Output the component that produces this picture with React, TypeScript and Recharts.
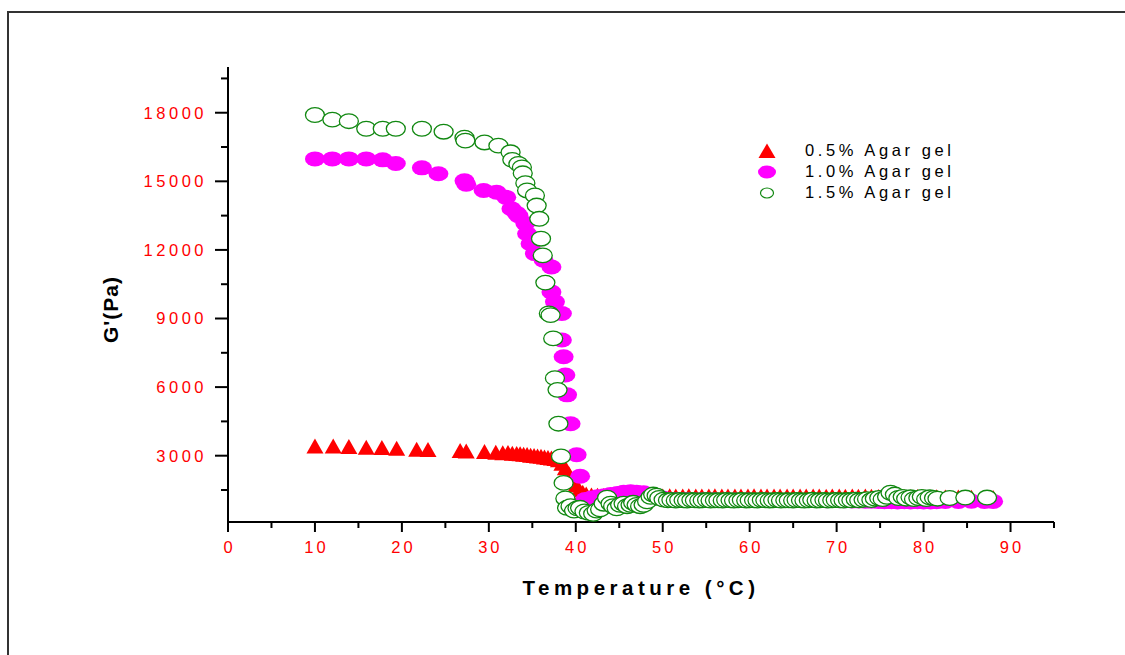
import React from "react";
import { ScatterChart, Scatter, XAxis, YAxis } from "recharts";

// temperature (°C), G' (Pa)
const agar05: [number, number][] = [
  [10.0, 3400], [12.1, 3400], [13.9, 3380], [15.9, 3350], [17.7, 3340], [19.4, 3300],
  [21.7, 3260], [23.0, 3250], [26.7, 3200], [27.4, 3180], [29.5, 3160], [30.8, 3130],
  [31.6, 3110], [32.2, 3120], [32.7, 3090], [33.2, 3070], [33.6, 3060], [34.0, 3040],
  [34.4, 3030], [34.8, 3000], [35.2, 2990], [35.6, 2960], [36.0, 2950], [36.4, 2920],
  [36.8, 2900], [37.2, 2880], [37.6, 2860], [38.0, 2800], [38.4, 2650], [38.8, 2450],
  [39.2, 2200], [39.6, 1950], [40.0, 1700], [40.4, 1500], [40.8, 1380], [41.2, 1300],
  [41.8, 1260], [42.5, 1250], [43.2, 1240], [44.0, 1250], [44.8, 1230], [45.5, 1220],
  [46.3, 1240], [47.0, 1230], [47.8, 1220], [48.5, 1230], [49.3, 1210], [50.0, 1220],
  [50.8, 1230], [51.5, 1210], [52.3, 1220], [53.0, 1230], [53.8, 1210], [54.5, 1220],
  [55.3, 1220], [56.0, 1230], [56.8, 1210], [57.5, 1220], [58.3, 1220], [59.0, 1210],
  [59.8, 1220], [60.5, 1230], [61.3, 1210], [62.0, 1220], [62.8, 1210], [63.5, 1220],
  [64.3, 1220], [65.0, 1210], [65.8, 1220], [66.5, 1210], [67.3, 1220], [68.0, 1210],
  [68.8, 1200], [69.5, 1210], [70.3, 1220], [71.0, 1200], [71.8, 1210], [72.5, 1200],
  [73.3, 1210], [74.0, 1200], [74.8, 1190], [75.5, 1200], [76.3, 1190], [77.0, 1200],
  [77.8, 1190], [78.5, 1180], [79.3, 1190], [80.0, 1180], [80.8, 1170], [81.5, 1180],
  [82.5, 1170], [84.0, 1170], [85.5, 1160], [87.0, 1160], [88.0, 1150],
];

const agar10: [number, number][] = [
  [10.0, 15980], [12.0, 15980], [13.9, 15980], [15.9, 15980], [17.8, 15940], [19.3, 15780],
  [22.3, 15590], [24.2, 15330], [27.2, 15020], [27.4, 14870], [29.4, 14600], [30.9, 14520],
  [32.0, 14300], [32.6, 13800], [33.2, 13600], [33.4, 13500], [34.2, 13150], [34.4, 12710],
  [34.8, 12270], [35.3, 11840], [36.3, 11550], [37.2, 11250], [37.2, 10160], [37.6, 9730],
  [38.4, 9220], [38.4, 8060], [38.6, 7330], [38.8, 6530], [39.0, 5660], [39.4, 4400],
  [40.1, 3040], [40.5, 2100], [41.1, 1080], [41.8, 1150], [42.5, 1200], [43.3, 1250],
  [44.0, 1300], [44.8, 1350], [45.5, 1400], [46.3, 1420], [47.0, 1400], [47.8, 1380],
  [48.5, 1300], [49.3, 1200], [50.0, 1150], [50.8, 1100], [51.5, 1080], [52.3, 1070],
  [53.0, 1080], [53.8, 1060], [54.5, 1070], [55.3, 1060], [56.0, 1070], [56.8, 1050],
  [57.5, 1060], [58.3, 1060], [59.0, 1050], [59.8, 1060], [60.5, 1050], [61.3, 1060],
  [62.0, 1050], [62.8, 1050], [63.5, 1040], [64.3, 1050], [65.0, 1040], [65.8, 1050],
  [66.5, 1040], [67.3, 1050], [68.0, 1040], [68.8, 1030], [69.5, 1040], [70.3, 1030],
  [71.0, 1030], [71.8, 1020], [72.5, 1020], [73.3, 1010], [74.0, 1010], [74.8, 1000],
  [75.5, 990], [76.3, 990], [77.0, 980], [77.8, 990], [78.5, 980], [79.3, 990],
  [80.0, 980], [80.8, 980], [81.5, 990], [82.5, 1000], [84.0, 1000], [85.5, 1010],
  [87.0, 1000], [88.0, 1000],
];

const agar15: [number, number][] = [
  [10.0, 17900], [12.0, 17700], [13.9, 17630], [15.9, 17300], [17.8, 17300], [19.3, 17300],
  [22.3, 17300], [24.8, 17170], [27.2, 16910], [27.3, 16780], [29.5, 16700], [31.1, 16560],
  [32.5, 16270], [32.7, 15940], [33.4, 15760], [33.8, 15610], [33.9, 15350], [34.2, 14920],
  [34.4, 14600], [35.3, 14380], [35.5, 13940], [35.8, 13360], [36.0, 12490], [36.2, 11760],
  [36.5, 10570], [36.9, 9220], [37.1, 9150], [37.4, 8130], [37.6, 6390], [37.9, 5880],
  [38.0, 4400], [38.3, 2970], [38.6, 1810], [38.8, 1130], [39.0, 720], [39.4, 790],
  [39.8, 600], [40.2, 700], [40.5, 720], [41.0, 560], [41.5, 500], [42.0, 460],
  [42.4, 600], [42.8, 650], [43.2, 900], [43.6, 1160], [44.0, 900], [44.3, 790],
  [44.7, 700], [45.1, 850], [45.5, 900], [45.9, 790], [46.3, 850], [46.6, 940],
  [47.0, 850], [47.4, 790], [47.8, 850], [48.2, 1000], [48.6, 1200], [48.9, 1300],
  [49.3, 1250], [49.6, 1150], [50.1, 1080], [50.6, 1050], [51.0, 1060], [51.5, 1040],
  [51.9, 1060], [52.4, 1050], [52.8, 1040], [53.3, 1060], [53.7, 1050], [54.2, 1040],
  [54.6, 1050], [55.1, 1060], [55.5, 1040], [56.0, 1050], [56.4, 1050], [56.9, 1040],
  [57.3, 1060], [57.8, 1050], [58.2, 1040], [58.7, 1050], [59.1, 1060], [59.6, 1040],
  [60.0, 1050], [60.5, 1050], [60.9, 1040], [61.4, 1060], [61.8, 1050], [62.3, 1040],
  [62.7, 1050], [63.2, 1060], [63.6, 1040], [64.1, 1050], [64.5, 1050], [65.0, 1040],
  [65.4, 1060], [65.9, 1050], [66.3, 1040], [66.8, 1050], [67.2, 1070], [67.7, 1040],
  [68.1, 1050], [68.6, 1060], [69.0, 1040], [69.5, 1050], [69.9, 1060], [70.4, 1050],
  [70.8, 1040], [71.3, 1060], [71.7, 1050], [72.2, 1080], [72.6, 1050], [73.1, 1070],
  [73.5, 1100], [74.0, 1060], [74.4, 1120], [74.9, 1150], [75.3, 1100], [75.8, 1200],
  [76.2, 1380], [76.7, 1300], [77.1, 1150], [77.6, 1200], [78.0, 1120], [78.5, 1180],
  [78.9, 1100], [79.4, 1150], [79.8, 1200], [80.3, 1100], [80.7, 1180], [81.2, 1150],
  [81.6, 1120], [83.0, 1150], [84.8, 1170], [87.3, 1170],
];

const xTicks = [0, 5, 10, 15, 20, 25, 30, 35, 40, 45, 50, 55, 60, 65, 70, 75, 80, 85, 90, 95];
const yTicks = [1500, 3000, 4500, 6000, 7500, 9000, 10500, 12000, 13500, 15000, 16500, 18000, 19500];
const seriesNames = ["0.5% Agar gel", "1.0% Agar gel", "1.5% Agar gel"];

const toPoints = (arr: [number, number][]) => arr.map(([t, g]) => ({ t, g }));

const RED = "#ff0000";
const MAGENTA = "#ff00ff";
const GREEN = "#118811";
const FONT = "'Liberation Sans', Arial, sans-serif";

const Triangle = (p: any) => (
  <polygon
    points={`${p.cx},${p.cy - 8} ${p.cx - 8.5},${p.cy + 7} ${p.cx + 8.5},${p.cy + 7}`}
    fill={RED}
  />
);
const FilledDot = (p: any) => <ellipse cx={p.cx} cy={p.cy} rx={10} ry={7.5} fill={MAGENTA} />;
const OpenDot = (p: any) => (
  <ellipse cx={p.cx} cy={p.cy} rx={9.5} ry={7.3} fill="#fff" stroke={GREEN} strokeWidth={1.3} />
);

const XTick = (props: any) => {
  const { x, y, payload } = props;
  const major = payload.value % 10 === 0;
  return (
    <g>
      <line x1={x} y1={y} x2={x} y2={y + (major ? 10 : 6)} stroke="#000" strokeWidth={2} />
      {major && payload.value <= 90 && (
        <text x={x + 1.5} y={y + 31} textAnchor="middle" fill={RED} fontSize={16.5}
          letterSpacing={3} fontFamily={FONT}>
          {payload.value}
        </text>
      )}
    </g>
  );
};

const YTick = (props: any) => {
  const { x, y, payload } = props;
  const major = payload.value % 3000 === 0;
  return (
    <g>
      <line x1={x - (major ? 13 : 7)} y1={y} x2={x} y2={y} stroke="#000" strokeWidth={2} />
      {major && (
        <text x={x - 21} y={y} dy="0.36em" textAnchor="end" fill={RED} fontSize={16.5}
          letterSpacing={3.5} fontFamily={FONT}>
          {payload.value}
        </text>
      )}
    </g>
  );
};

export default function App() {
  const legendMarks = [
    <svg width={20} height={16} key="a"><polygon points="10,0.5 1.5,15 18.5,15" fill={RED} /></svg>,
    <svg width={20} height={16} key="b"><ellipse cx={10} cy={8} rx={9} ry={6.5} fill={MAGENTA} /></svg>,
    <svg width={20} height={16} key="c"><ellipse cx={10} cy={8} rx={6.5} ry={5} fill="#fff" stroke={GREEN} strokeWidth={1.2} /></svg>,
  ];
  return (
    <div style={{ position: "absolute", left: 0, top: 0, width: 1125, height: 655, overflow: "hidden", background: "#fff", fontFamily: FONT }}>
      <div style={{ position: "absolute", left: 7, top: 11, width: 1300, height: 800, borderLeft: "2px solid #333", borderTop: "2px solid #333" }} />
      <ScatterChart width={1125} height={655} margin={{ top: 67, right: 71, bottom: 73, left: 0 }} style={{ position: "absolute", left: 0, top: 0 }}>
        <XAxis
          type="number"
          dataKey="t"
          domain={[0, 95]}
          ticks={xTicks}
          interval={0}
          height={60}
          tickSize={0}
          tickMargin={0}
          tickLine={false}
          tick={<XTick />}
          axisLine={{ stroke: "#000", strokeWidth: 2 }}
          label={{ value: "Temperature (°C)", position: "center", dy: 36, fill: "#000", fontSize: 20.5, fontWeight: "bold", letterSpacing: 4.5, fontFamily: FONT }}
        />
        <YAxis
          type="number"
          dataKey="g"
          domain={[100, 20000]}
          ticks={yTicks}
          interval={0}
          width={228}
          tickSize={0}
          tickMargin={0}
          tickLine={false}
          tick={<YTick />}
          axisLine={{ stroke: "#000", strokeWidth: 2 }}
          label={{ value: "G'(Pa)", angle: -90, position: "center", dx: -3, dy: 15, fill: "#000", fontSize: 21, fontWeight: "bold", letterSpacing: 1, fontFamily: FONT }}
        />
        <Scatter name={seriesNames[0]} data={toPoints(agar05)} shape={Triangle} isAnimationActive={false} />
        <Scatter name={seriesNames[1]} data={toPoints(agar10)} shape={FilledDot} isAnimationActive={false} />
        <Scatter name={seriesNames[2]} data={toPoints(agar15)} shape={OpenDot} isAnimationActive={false} />
      </ScatterChart>
      <div style={{ position: "absolute", left: 757, top: 140 }}>
        {seriesNames.map((name, i) => (
          <div key={name} style={{ display: "flex", alignItems: "center", height: 21 }}>
            {legendMarks[i]}
            <span style={{ marginLeft: 28, fontSize: 16.5, letterSpacing: 3.6, color: "#000" }}>{name}</span>
          </div>
        ))}
      </div>
    </div>
  );
}
